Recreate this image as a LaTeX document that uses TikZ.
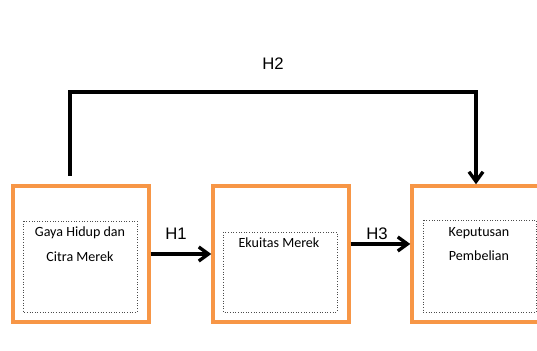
\documentclass[tikz,border=0pt]{standalone}
\usepackage{fontspec}
\setmainfont{Carlito}
\newfontfamily\labelfont{Liberation Sans}
\usetikzlibrary{arrows.meta}
\definecolor{boxorange}{RGB}{247,150,70}

\begin{document}
\begin{tikzpicture}[x=0.02cm,y=-0.02cm,
  box/.style={draw=boxorange,line width=2pt,minimum width=2.72cm,minimum height=2.72cm,inner sep=0pt},
  inner/.style={draw=black!70,densely dotted,line width=0.5pt},
  txt/.style={align=center,font=\fontsize{8}{14}\selectfont},
  hyp/.style={font=\labelfont\fontsize{9.5}{11}\selectfont},
  arr/.style={line width=1.9pt,-{Straight Barb[length=5.5pt,width=8pt,line width=1.9pt]}}]
 \useasboundingbox (0,0) rectangle (537,351);
 \clip (0,0) rectangle (537,351);

 \node (gaya) at (81,254) [box] {}; % kotak kiri
 \node (ekuitas) at (281,254) [box] {}; % kotak tengah
 \node (keputusan) at (480,254) [box] {}; % kotak kanan

 \draw [inner] (23,221) rectangle (137,312);
 \draw [inner] (223,232) rectangle (337,312);
 \draw [inner] (423,220) rectangle (536,312);

 \node (gayatext) at (80,244) [txt] {Gaya Hidup dan\\Citra Merek};
 \node (ekuitastext) at (279,243) [txt] {Ekuitas Merek};
 \node (keputusantext) at (479,244) [txt] {Keputusan\\Pembelian};

 \coordinate (h2from) at (70,176);
 \draw [arr] (gaya.east) -- (ekuitas.west);
 \draw [arr] ([yshift=5.7pt]ekuitas.east) -- ([yshift=5.7pt]keputusan.west);
 \draw [arr] (h2from) -- (70,92) -| ([xshift=-0.08cm]keputusan.north);

 \node (h1) at (176,234) [hyp] {H1};
 \node (h2) at (273,64) [hyp] {H2};
 \node (h3) at (377,234) [hyp] {H3};
\end{tikzpicture}
\end{document}
